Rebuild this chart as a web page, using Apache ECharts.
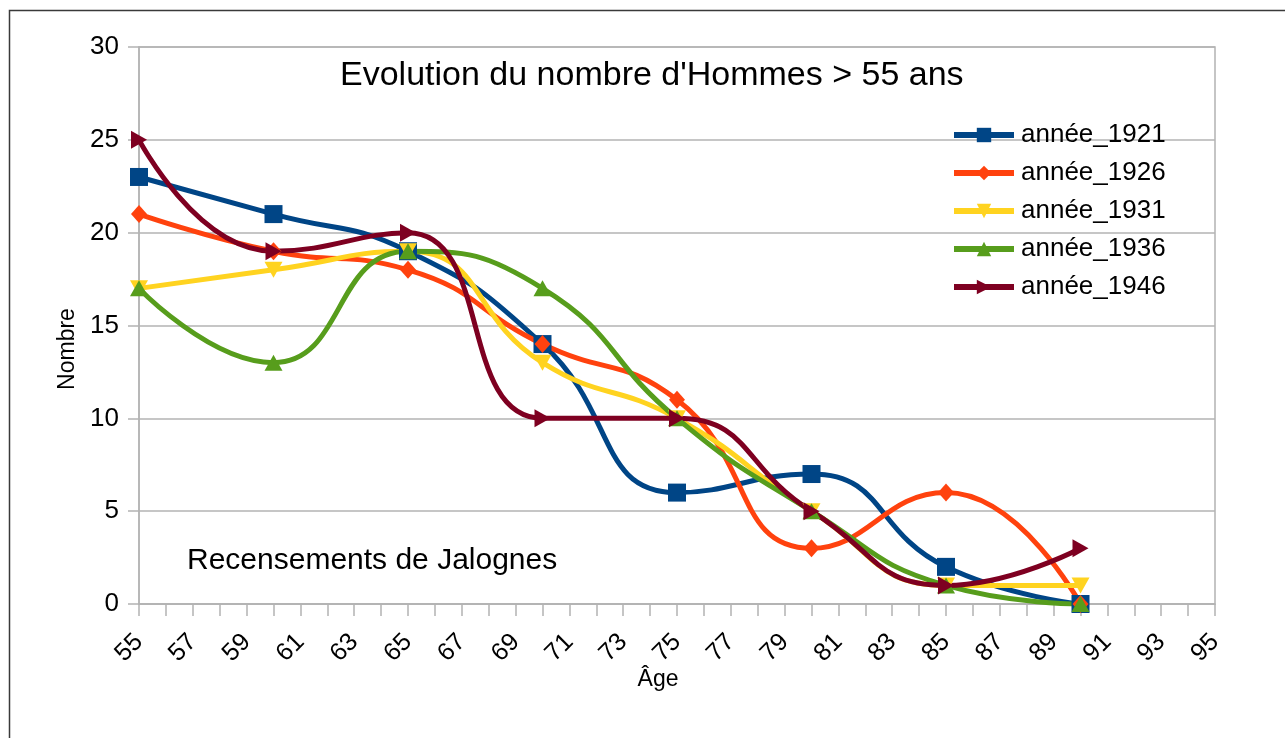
<!DOCTYPE html>
<html>
<head>
<meta charset="utf-8">
<script src="https://cdn.jsdelivr.net/npm/echarts@6/dist/echarts.min.js"></script>
<style>
  html, body { margin: 0; padding: 0; background: #fff; }
  #chart { width: 1285px; height: 738px; }
</style>
</head>
<body>
<div id="chart"></div>
<script>
// ages des recensements
const ages = [55, 60, 65, 70, 75, 80, 85, 90];
const annee1921 = [23, 21, 19, 14, 6, 7, 2, 0];
const annee1926 = [21, 19, 18, 14, 11, 3, 6, 0];
const annee1931 = [17, 18, 19, 13, 10, 5, 1, 1];
const annee1936 = [17, 13, 19, 17, 10, 5, 1, 0];
const annee1946 = [25, 19, 20, 10, 10, 5, 1, 3];

const font = 'Liberation Sans, Arial, sans-serif';
const grey = '#b3b3b3';

function pairs(vals) {
    return ages.map((a, i) => [a, vals[i]]);
}

function serie(name, vals, color, symbol, size, rotate) {
    return {
        name: name,
        type: 'line',
        smooth: 0.5,
        data: pairs(vals),
        symbol: symbol,
        symbolSize: size,
        symbolRotate: rotate || 0,
        showAllSymbol: true,
        lineStyle: { color: color, width: 5 },
        itemStyle: { color: color },
        emphasis: { disabled: true }
    };
}

const chart = echarts.init(document.getElementById('chart'));
const option = {
    animation: false,
    backgroundColor: '#fff',
    title: [
        {
            text: "Evolution du nombre d'Hommes > 55 ans",
            left: 335, top: 54,
            textStyle: { fontFamily: font, fontSize: 34, fontWeight: 'normal', color: '#000' }
        },
        {
            text: 'Recensements de Jalognes',
            left: 182, top: 541,
            textStyle: { fontFamily: font, fontSize: 30, fontWeight: 'normal', color: '#000' }
        }
    ],
    legend: {
        orient: 'vertical',
        left: 946, top: 117,
        itemWidth: 60, itemHeight: 18,
        itemGap: 12,
        lineStyle: { width: 6 },
        textStyle: { fontFamily: font, fontSize: 26, color: '#000', lineHeight: 24, padding: [0, 0, 0, 2] },
        data: ['année_1921', 'année_1926', 'année_1931', 'année_1936', 'année_1946']
    },
    grid: { left: 139, top: 47, right: 70, bottom: 134, show: true, borderColor: grey, borderWidth: 1.5 },
    xAxis: {
        type: 'value', min: 55, max: 95, interval: 1,
        axisLine: { lineStyle: { color: grey, width: 1.5 } },
        axisTick: { show: true, length: 12, lineStyle: { color: grey, width: 1.5 } },
        splitLine: { show: false },
        axisLabel: {
            rotate: 45, margin: 34, fontFamily: font, fontSize: 25, color: '#000',
            formatter: v => ((v - 55) % 2 === 0 ? String(v) : '')
        }
    },
    yAxis: {
        type: 'value', min: 0, max: 30, interval: 5,
        axisLine: { show: true, lineStyle: { color: grey, width: 1.5 } },
        axisTick: { show: true, length: 11, lineStyle: { color: grey, width: 1.5 } },
        splitLine: { lineStyle: { color: grey, width: 1.5 } },
        axisLabel: { margin: 20, fontFamily: font, fontSize: 26, color: '#000' }
    },
    graphic: [
        {
            type: 'rect', silent: true, z: 100,
            shape: { x: 9.5, y: 10.5, width: 1400, height: 900 },
            style: { fill: 'none', stroke: '#3a3a3a', lineWidth: 1.5 }
        },
        {
            type: 'text', silent: true,
            x: 68, y: 349, rotation: Math.PI / 2,
            style: { text: 'Nombre', font: '23px ' + font, fill: '#000', align: 'center', verticalAlign: 'middle' }
        },
        {
            type: 'text', silent: true,
            x: 658, y: 680,
            style: { text: 'Âge', font: '23px ' + font, fill: '#000', align: 'center', verticalAlign: 'middle' }
        }
    ],
    series: [
        serie('année_1921', annee1921, '#004586', 'rect', 18),
        serie('année_1926', annee1926, '#ff420e', 'diamond', [16, 18]),
        serie('année_1931', annee1931, '#ffd320', 'triangle', [18, 16], 180),
        serie('année_1936', annee1936, '#579d1c', 'triangle', [18, 16]),
        serie('année_1946', annee1946, '#7e0021', 'triangle', [18, 16], -90)
    ]
};
option && chart.setOption(option);
window.onresize = () => {
    chart.resize();
};
</script>
</body>
</html>
